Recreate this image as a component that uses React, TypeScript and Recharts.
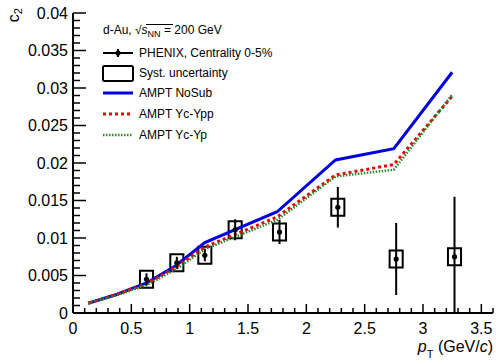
import React from 'react';
import {
  ComposedChart, Line, Scatter, ErrorBar, XAxis, YAxis, ReferenceArea,
} from 'recharts';

// PHENIX d-Au 0-5% c2 vs pT
const phenixPt = [0.63, 0.89, 1.13, 1.39, 1.77, 2.27, 2.77, 3.27];
const phenixC2 = [0.0045, 0.0067, 0.0077, 0.0111, 0.0108, 0.0141, 0.0072, 0.0075];
const phenixStatLo = [0.0008, 0.0008, 0.0008, 0.0014, 0.0016, 0.0027, 0.0048, 0.0075];
const phenixStatHi = [0.0008, 0.0008, 0.0008, 0.0014, 0.0016, 0.0027, 0.0048, 0.008];
const systHalfX = 0.056;
const systHalfY = 0.00113;

// AMPT curves
const amptPt = [0.13, 0.38, 0.63, 0.88, 1.13, 1.75, 2.25, 2.75, 3.25];
const amptNoSub = [0.0013, 0.0025, 0.004, 0.0063, 0.0094, 0.0135, 0.0204, 0.0219, 0.0321];
const amptYcYpp = [0.0013, 0.0025, 0.0039, 0.0061, 0.0088, 0.0128, 0.0184, 0.0198, 0.0289];
const amptYcYp = [0.0013, 0.0024, 0.0037, 0.0058, 0.0085, 0.0124, 0.0182, 0.0191, 0.0291];

// axis ticks
const xMajor = [0, 0.5, 1, 1.5, 2, 2.5, 3, 3.5];
const xMajorLabels = ['0', '0.5', '1', '1.5', '2', '2.5', '3', '3.5'];
const yMajor = [0, 0.005, 0.01, 0.015, 0.02, 0.025, 0.03, 0.035, 0.04];
const yMajorLabels = ['0', '0.005', '0.01', '0.015', '0.02', '0.025', '0.03', '0.035', '0.04'];
const xMinor = Array.from({ length: 37 }, (_, i) => +(i * 0.1).toFixed(2));
const yMinor = Array.from({ length: 41 }, (_, i) => +(i * 0.001).toFixed(4));

const phenix = phenixPt.map((x, i) => ({ x, y: phenixC2[i], err: [phenixStatLo[i], phenixStatHi[i]] }));
const toLine = (ys: number[]) => amptPt.map((x, i) => ({ x, y: ys[i] }));

const FONT = '"Liberation Sans", Arial, Helvetica, sans-serif';

const majorIndex = (list: number[], v: number) => list.findIndex((m) => Math.abs(m - v) < 1e-7);

const BottomTick = ({ x, y, payload }: any) => {
  const i = majorIndex(xMajor, payload.value);
  return (
    <g>
      <line x1={x} x2={x} y1={y} y2={y - (i >= 0 ? 9 : 5)} stroke="#000" strokeWidth={1.5} />
      {i >= 0 && (
        <text x={x} y={y + 21} textAnchor="middle" fontSize={16} fontFamily={FONT} fill="#000">
          {xMajorLabels[i]}
        </text>
      )}
    </g>
  );
};

const TopTick = ({ x, y, payload }: any) => {
  const i = majorIndex(xMajor, payload.value);
  return <line x1={x} x2={x} y1={y} y2={y + (i >= 0 ? 9 : 5)} stroke="#000" strokeWidth={1.5} />;
};

const LeftTick = ({ x, y, payload }: any) => {
  const i = majorIndex(yMajor, payload.value);
  return (
    <g>
      <line x1={x} x2={x + (i >= 0 ? 13 : 7)} y1={y} y2={y} stroke="#000" strokeWidth={1.5} />
      {i >= 0 && (
        <text x={x - 5} y={y} dy="0.36em" textAnchor="end" fontSize={16} fontFamily={FONT} fill="#000">
          {yMajorLabels[i]}
        </text>
      )}
    </g>
  );
};

const RightTick = ({ x, y, payload }: any) => {
  const i = majorIndex(yMajor, payload.value);
  return <line x1={x} x2={x - (i >= 0 ? 13 : 7)} y1={y} y2={y} stroke="#000" strokeWidth={1.5} />;
};

const Dot = ({ cx, cy }: any) => <circle cx={cx} cy={cy} r={2.6} fill="#000" />;

const frame = { stroke: '#000', strokeWidth: 2 };

export default function App() {
  return (
    <div style={{ position: 'absolute', left: 0, top: 0, width: 496, height: 364, background: '#fff', fontFamily: FONT }}>
      <ComposedChart width={496} height={364} margin={{ top: 13, right: 3, bottom: 0, left: 0 }}>
        <XAxis xAxisId={0} dataKey="x" type="number" domain={[0, 3.6]} ticks={xMinor} interval={0}
          height={51} tickSize={0} tickMargin={0} tick={<BottomTick />} axisLine={frame} allowDataOverflow />
        <XAxis xAxisId="top" orientation="top" dataKey="x" type="number" domain={[0, 3.6]} ticks={xMinor}
          interval={0} height={0} tickSize={0} tickMargin={0} tick={<TopTick />} axisLine={frame} />
        <YAxis yAxisId={0} type="number" domain={[0, 0.04]} ticks={yMinor} interval={0} width={73}
          tickSize={0} tickMargin={0} tick={<LeftTick />} axisLine={frame} allowDataOverflow />
        <YAxis yAxisId="right" orientation="right" type="number" domain={[0, 0.04]} ticks={yMinor}
          interval={0} width={0} tickSize={0} tickMargin={0} tick={<RightTick />} axisLine={frame} />

        {phenix.map((p) => (
          <ReferenceArea key={p.x} x1={p.x - systHalfX} x2={p.x + systHalfX}
            y1={p.y - systHalfY} y2={p.y + systHalfY}
            fill="none" fillOpacity={0} stroke="#000" strokeWidth={2} />
        ))}

        <Line data={toLine(amptNoSub)} dataKey="y" type="linear" stroke="#0000dd" strokeWidth={3}
          dot={false} isAnimationActive={false} />
        <Line data={toLine(amptYcYpp)} dataKey="y" type="linear" stroke="#ee0000" strokeWidth={3}
          strokeDasharray="3 3" dot={false} isAnimationActive={false} />
        <Line data={toLine(amptYcYp)} dataKey="y" type="linear" stroke="#2a8a2a" strokeWidth={2.5}
          strokeDasharray="1.5 1.5" dot={false} isAnimationActive={false} />

        <Scatter data={phenix} dataKey="y" shape={<Dot />} isAnimationActive={false}>
          <ErrorBar dataKey="err" direction="y" width={0} stroke="#000" strokeWidth={2} />
        </Scatter>
      </ComposedChart>

      <svg width={496} height={364} style={{ position: 'absolute', left: 0, top: 0, pointerEvents: 'none' }}
        fontFamily={FONT} fill="#000">
        {/* axis titles */}
        <text transform="rotate(-90)" x={-8} y={19} textAnchor="end" fontSize={16}>
          c<tspan dy={3} fontSize={11}>2</tspan>
        </text>
        <text x={493} y={352} textAnchor="end" fontSize={16}>
          <tspan fontStyle="italic">p</tspan>
          <tspan dy={6} fontSize={11}>T</tspan>
          <tspan dy={-6}> (GeV/</tspan>
          <tspan fontStyle="italic">c</tspan>)
        </text>

        {/* legend */}
        <text x={103} y={34} fontSize={12}>
          d-Au, √<tspan fontStyle="italic">s</tspan>
          <tspan dy={3} fontSize={9}>NN</tspan>
          <tspan dy={-3}> = 200 GeV</tspan>
        </text>
        <line x1={146} x2={173} y1={24.5} y2={24.5} stroke="#000" strokeWidth={1} />

        <line x1={103} x2={133} y1={53} y2={53} stroke="#000" strokeWidth={2} />
        <line x1={118} x2={118} y1={49} y2={57} stroke="#000" strokeWidth={2} />
        <circle cx={118} cy={53} r={2.6} fill="#000" />
        <text x={139} y={57} fontSize={12}>PHENIX, Centrality 0-5%</text>

        <rect x={103} y={66} width={30} height={15} rx={1.5} fill="none" stroke="#000" strokeWidth={2} />
        <text x={139} y={77} fontSize={12}>Syst. uncertainty</text>

        <line x1={103} x2={133} y1={93} y2={93} stroke="#0000dd" strokeWidth={3} />
        <text x={139} y={97} fontSize={12}>AMPT NoSub</text>

        <line x1={103} x2={133} y1={114} y2={114} stroke="#ee0000" strokeWidth={3} strokeDasharray="3 3" />
        <text x={139} y={118} fontSize={12}>AMPT Yc-Ypp</text>

        <line x1={103} x2={133} y1={135} y2={135} stroke="#2a8a2a" strokeWidth={2.5} strokeDasharray="1.5 1.5" />
        <text x={139} y={139} fontSize={12}>AMPT Yc-Yp</text>
      </svg>
    </div>
  );
}
